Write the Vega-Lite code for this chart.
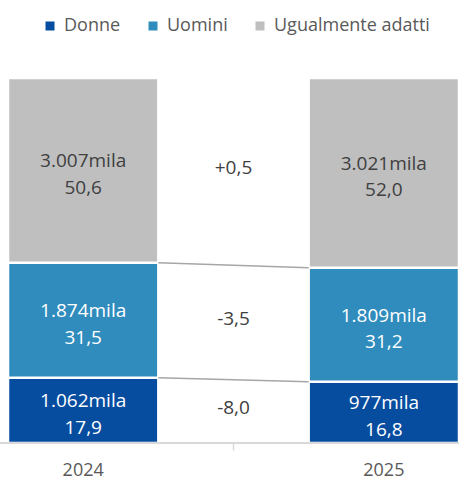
{
  "$schema": "https://vega.github.io/schema/vega-lite/v6.json",
  "width": 459,
  "height": 365,
  "autosize": {"type": "none"},
  "padding": {"left": 0, "top": 78, "right": 0, "bottom": 36},
  "background": "white",
  "config": {"view": {"stroke": null}, "font": "Open Sans"},
  "data": {
    "values": [
      {"anno": "2024", "cat": "Donne", "ord": 1, "mila": 1062, "pct": 17.9, "var": "-8,0"},
      {"anno": "2024", "cat": "Uomini", "ord": 2, "mila": 1874, "pct": 31.5, "var": "-3,5"},
      {"anno": "2024", "cat": "Ugualmente adatti", "ord": 3, "mila": 3007, "pct": 50.6, "var": "+0,5"},
      {"anno": "2025", "cat": "Donne", "ord": 1, "mila": 977, "pct": 16.8, "var": "-8,0"},
      {"anno": "2025", "cat": "Uomini", "ord": 2, "mila": 1809, "pct": 31.2, "var": "-3,5"},
      {"anno": "2025", "cat": "Ugualmente adatti", "ord": 3, "mila": 3021, "pct": 52.0, "var": "+0,5"}
    ]
  },
  "transform": [
    {"stack": "pct", "groupby": ["anno"], "sort": [{"field": "ord"}], "as": ["y0", "y1"]},
    {"calculate": "(datum.y0 + datum.y1) / 2", "as": "ymid"}
  ],
  "layer": [
    {
      "mark": {"type": "bar", "stroke": "white", "strokeWidth": 2.5},
      "encoding": {
        "x": {
          "field": "anno", "type": "nominal",
          "scale": {"domain": ["2024", "Δ", "2025"], "range": [8, 459], "paddingInner": 0, "paddingOuter": 0},
          "axis": {
            "title": null, "domain": false, "labelAngle": 0,
            "labelExpr": "datum.value === 'Δ' ? '' : datum.value",
            "labelFont": "Open Sans", "labelFontSize": 18, "labelColor": "#595959",
            "labelPadding": 11, "tickSize": 7, "tickWidth": 1.5,
            "tickColor": {"condition": {"test": "datum.value === 'Δ'", "value": "#d9d9d9"}, "value": "transparent"}
          }
        },
        "y": {"field": "y0", "type": "quantitative", "scale": {"domain": [0, 100], "nice": false}, "axis": null},
        "y2": {"field": "y1"},
        "color": {
          "field": "cat", "type": "nominal",
          "scale": {"domain": ["Donne", "Uomini", "Ugualmente adatti"], "range": ["#064DA0", "#2F8CBD", "#BFBFBF"]},
          "legend": {
            "title": null, "orient": "none", "legendX": 41, "legendY": -61, "direction": "horizontal",
            "symbolType": "square", "symbolSize": 81, "symbolStrokeWidth": 0,
            "labelFont": "Open Sans", "labelFontSize": 18, "labelColor": "#595959",
            "labelOffset": 5, "columnPadding": 23, "padding": 0
          }
        }
      }
    },
    {
      "transform": [
        {"calculate": "[replace(format(datum.mila, ','), ',', '.') + 'mila', replace(format(datum.pct, '.1f'), '.', ',')]", "as": "lbl"}
      ],
      "mark": {"type": "text", "font": "Open Sans", "fontSize": 19, "lineHeight": 26.5, "baseline": "middle", "align": "center", "dy": -9},
      "encoding": {
        "x": {"field": "anno", "type": "nominal"},
        "y": {"field": "ymid", "type": "quantitative"},
        "text": {"field": "lbl"},
        "color": {"condition": {"test": "datum.cat === 'Ugualmente adatti'", "value": "#404040"}, "value": "white"}
      }
    },
    {
      "transform": [
        {"filter": "datum.cat !== 'Ugualmente adatti'"},
        {"pivot": "anno", "value": "y1", "groupby": ["cat"]}
      ],
      "mark": {"type": "rule", "color": "#a6a6a6", "strokeWidth": 1.5},
      "encoding": {
        "x": {"datum": "Δ", "bandPosition": 0},
        "x2": {"datum": "Δ", "bandPosition": 1},
        "y": {"field": "2024", "type": "quantitative"},
        "y2": {"field": "2025"}
      }
    },
    {
      "transform": [
        {"aggregate": [{"op": "mean", "field": "ymid", "as": "ym"}], "groupby": ["cat", "var"]}
      ],
      "mark": {"type": "text", "font": "Open Sans", "fontSize": 19, "baseline": "middle", "align": "center", "color": "#404040", "dy": -3.5},
      "encoding": {
        "x": {"datum": "Δ"},
        "y": {"field": "ym", "type": "quantitative"},
        "text": {"field": "var"}
      }
    },
    {
      "mark": {"type": "rule", "color": "#d9d9d9", "strokeWidth": 2},
      "encoding": {"y": {"datum": 0}}
    }
  ]
}
